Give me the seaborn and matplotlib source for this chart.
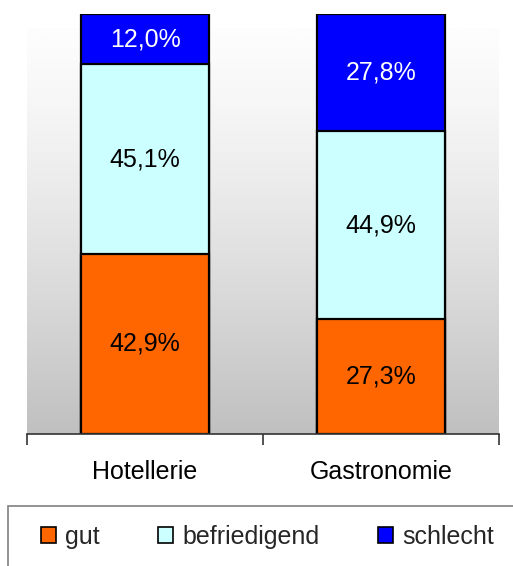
import numpy as np
import pandas as pd
import matplotlib.pyplot as plt
import seaborn as sns
from matplotlib.patches import Patch, Rectangle
from matplotlib.colors import LinearSegmentedColormap

categories = ['Hotellerie', 'Gastronomie']
gut = [42.9, 27.3]
befriedigend = [45.1, 44.9]
schlecht = [12.0, 27.8]
series = ['gut', 'befriedigend', 'schlecht']
colors = ['#FF6600', '#CCFFFF', '#0000FF']

sns.set_theme(style='white')
plt.rcParams['font.family'] = ['Liberation Sans', 'DejaVu Sans']
fs = 18

df = pd.DataFrame({'kat': categories, 'gut': gut,
                   'befriedigend': befriedigend, 'schlecht': schlecht})
df['c1'] = df['gut']
df['c2'] = df['gut'] + df['befriedigend']
df['c3'] = df['c2'] + df['schlecht']

fig = plt.figure(figsize=(5.13, 5.66), dpi=100)
ax = fig.add_axes([27/513, 1-434/566, 472/513, 420/566])

# gradient background (white at top -> silver at bottom)
g = np.linspace(0, 1, 256) ** 1.3
bg = LinearSegmentedColormap.from_list('bg', ['#FDFDFD', '#C0C0C0'])
top = 100 * (434 - 28) / 420
ax.imshow(g[:, None], cmap=bg, aspect='auto', extent=(-0.5, 1.5, 0, top),
          origin='upper', zorder=0, vmin=0, vmax=1)

# stacked bars, drawn from the top of the stack down
for col, c in zip(['c3', 'c2', 'c1'], colors[::-1]):
    sns.barplot(data=df, x='kat', y=col, color=c, width=0.54,
                edgecolor='black', linewidth=1.6, saturation=1, ax=ax, zorder=2)

for i in range(len(categories)):
    base = 0
    for s, tc in zip(series, ['black', 'black', 'white']):
        v = df[s][i]
        ax.text(i, base + v / 2, f'{v:.1f}%'.replace('.', ','), ha='center',
                va='center', fontsize=fs, color=tc, zorder=3)
        base += v

ax.set_xlim(-0.5, 1.5)
ax.set_ylim(0, 100)
ax.set_ylabel('')
ax.set_xlabel('')
ax.set_yticks([])
for sp in ['top', 'left', 'right']:
    ax.spines[sp].set_visible(False)
ax.spines['bottom'].set_color('#333333')
ax.spines['bottom'].set_linewidth(1.2)
ax.set_xticks([-0.5, 0.5, 1.5])
ax.set_xticklabels([])
ax.tick_params(axis='x', which='major', direction='out', length=8, width=1.2,
               color='#333333', bottom=True)
ax.set_xticks([0, 1], minor=True)
ax.set_xticklabels(categories, minor=True, fontsize=fs, color='black')
ax.tick_params(axis='x', which='minor', length=0, pad=19)

# legend
handles = [Patch(facecolor=c, edgecolor='black', linewidth=1.2) for c in colors]
fig.legend(handles, series, loc='center left', bbox_to_anchor=(31/513, 1-537/566),
           ncol=3, frameon=False, fontsize=fs, handlelength=0.6, handleheight=0.6,
           handletextpad=0.36, columnspacing=2.35, borderaxespad=0)
fig.add_artist(Rectangle((8/513, -0.1), 1, 0.1 + 1-506/566, transform=fig.transFigure,
                         fill=False, edgecolor='#808080', linewidth=1.2))

fig.savefig('out.png', dpi=100)
